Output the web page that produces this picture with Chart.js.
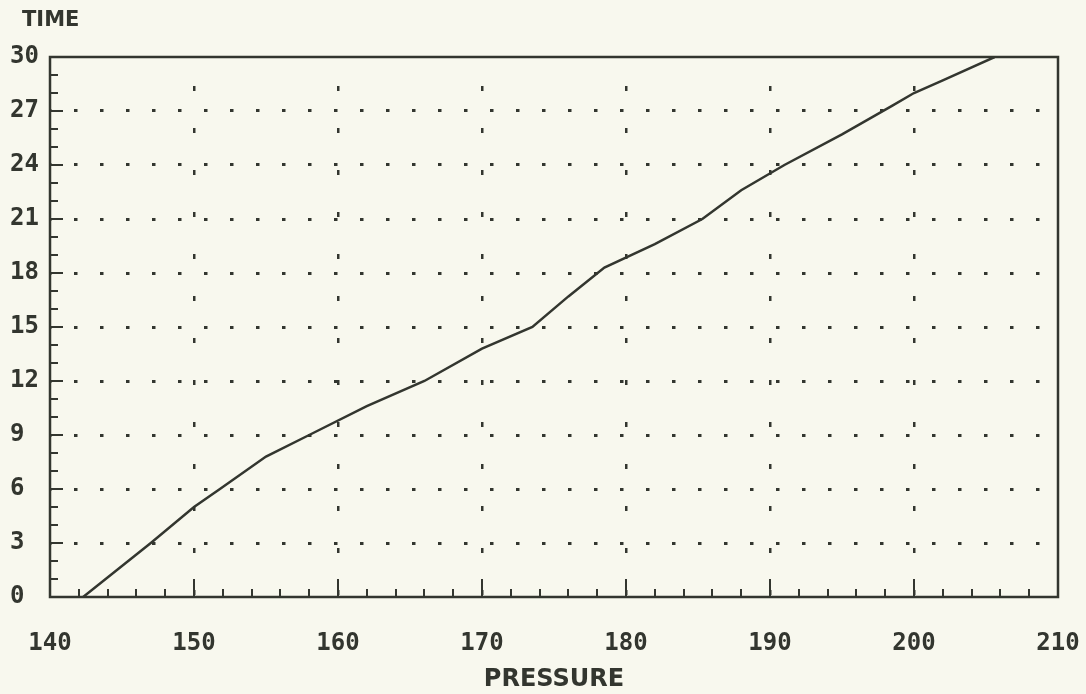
<!DOCTYPE html>
<html>
<head>
<meta charset="utf-8">
<script src="https://cdn.jsdelivr.net/npm/chart.js@4.4.0/dist/chart.umd.min.js"></script>
<style>
    html, body { margin: 0; padding: 0; background: #f8f8ee; }
    #wrap { width: 1086px; height: 694px; }
</style>
</head>
<body>
<div id="wrap"><canvas id="pressureChart" width="1086" height="694"></canvas></div>
<script>
// Valores (presion vs tiempo)
const pressure = [142.3, 147.0, 150.0, 151.8, 155.0, 158.0, 162.0, 166.0, 170.0, 173.5, 176.0, 178.5, 182.0, 185.3, 188.0, 191.0, 195.0, 198.5, 200.0, 202.0, 205.6];
const time     = [0, 3, 5, 6, 7.8, 9, 10.6, 12, 13.8, 15, 16.7, 18.3, 19.6, 21, 22.6, 24, 25.7, 27.3, 28, 28.7, 30];

// Etiquetas de los ejes
const xTicks = [140, 150, 160, 170, 180, 190, 200, 210];
const yTicks = [0, 3, 6, 9, 12, 15, 18, 21, 24, 27, 30];
const xTitle = 'PRESSURE';
const yTitle = 'TIME';

const ink = '#33362f';

// Marco, marcas menores y titulo del eje Y
const framePlugin = {
    id: 'frame',
    afterDraw(chart) {
        const { ctx, chartArea: a, scales: { x, y } } = chart;
        ctx.save();
        ctx.strokeStyle = ink;
        ctx.lineWidth = 2.5;
        ctx.strokeRect(a.left, a.top, a.right - a.left, a.bottom - a.top);

        ctx.lineWidth = 2;
        ctx.beginPath();
        for (let v = 1; v < 30; v++) {
            const py = Math.round(y.getPixelForValue(v));
            const len = v % 3 === 0 ? 13 : 8;
            ctx.moveTo(a.left, py);
            ctx.lineTo(a.left + len, py);
        }
        for (let v = 142; v < 210; v += 2) {
            const px = Math.round(x.getPixelForValue(v));
            const len = v % 10 === 0 ? 18 : 8;
            ctx.moveTo(px, a.bottom);
            ctx.lineTo(px, a.bottom - len);
        }
        ctx.stroke();

        ctx.fillStyle = ink;
        ctx.font = 'bold 21px "DejaVu Sans"';
        ctx.textBaseline = 'middle';
        ctx.textAlign = 'left';
        ctx.fillText(yTitle, 22, 21);
        ctx.restore();
    }
};

const ctx = document.getElementById('pressureChart').getContext('2d');
new Chart(ctx, {
    type: 'line',
    data: {
        datasets: [{
            data: pressure.map((p, i) => ({ x: p, y: time[i] })),
            borderColor: ink,
            borderWidth: 2.5,
            pointRadius: 0,
            tension: 0,
            fill: false
        }]
    },
    options: {
        responsive: false,
        animation: false,
        layout: { padding: { left: 10, top: 57, right: 28, bottom: 0 } },
        plugins: {
            legend: { display: false },
            tooltip: { enabled: false }
        },
        scales: {
            x: {
                type: 'linear',
                min: 140,
                max: 210,
                afterBuildTicks: scale => { scale.ticks = xTicks.map(v => ({ value: v })); },
                afterFit: scale => { scale.height = 97; },
                grid: {
                    color: ctx => (ctx.tick && (ctx.tick.value === 140 || ctx.tick.value === 210)) ? 'rgba(0,0,0,0)' : ink,
                    lineWidth: 2.5,
                    drawTicks: true,
                    tickLength: 30,
                    tickColor: 'rgba(0,0,0,0)'
                },
                border: { display: false, dash: [5, 37], dashOffset: 13 },
                ticks: {
                    color: ink,
                    padding: 2,
                    maxRotation: 0,
                    font: { family: '"DejaVu Sans Mono"', size: 24, weight: 'bold' }
                },
                title: {
                    display: true,
                    text: xTitle,
                    color: ink,
                    padding: { top: 0, bottom: 0 },
                    font: { family: '"DejaVu Sans"', size: 24, weight: 'bold' }
                }
            },
            y: {
                type: 'linear',
                min: 0,
                max: 30,
                afterBuildTicks: scale => { scale.ticks = yTicks.map(v => ({ value: v })); },
                afterFit: scale => { scale.width = 40; },
                grid: {
                    color: ctx => (ctx.tick && (ctx.tick.value === 0 || ctx.tick.value === 30)) ? 'rgba(0,0,0,0)' : ink,
                    lineWidth: 3,
                    drawTicks: false
                },
                border: { display: false, dash: [3.5, 22.5], dashOffset: 2 },
                ticks: {
                    color: ink,
                    crossAlign: 'far',
                    font: { family: '"DejaVu Sans Mono"', size: 24, weight: 'bold' }
                }
            }
        }
    },
    plugins: [framePlugin]
});
</script>
</body>
</html>
